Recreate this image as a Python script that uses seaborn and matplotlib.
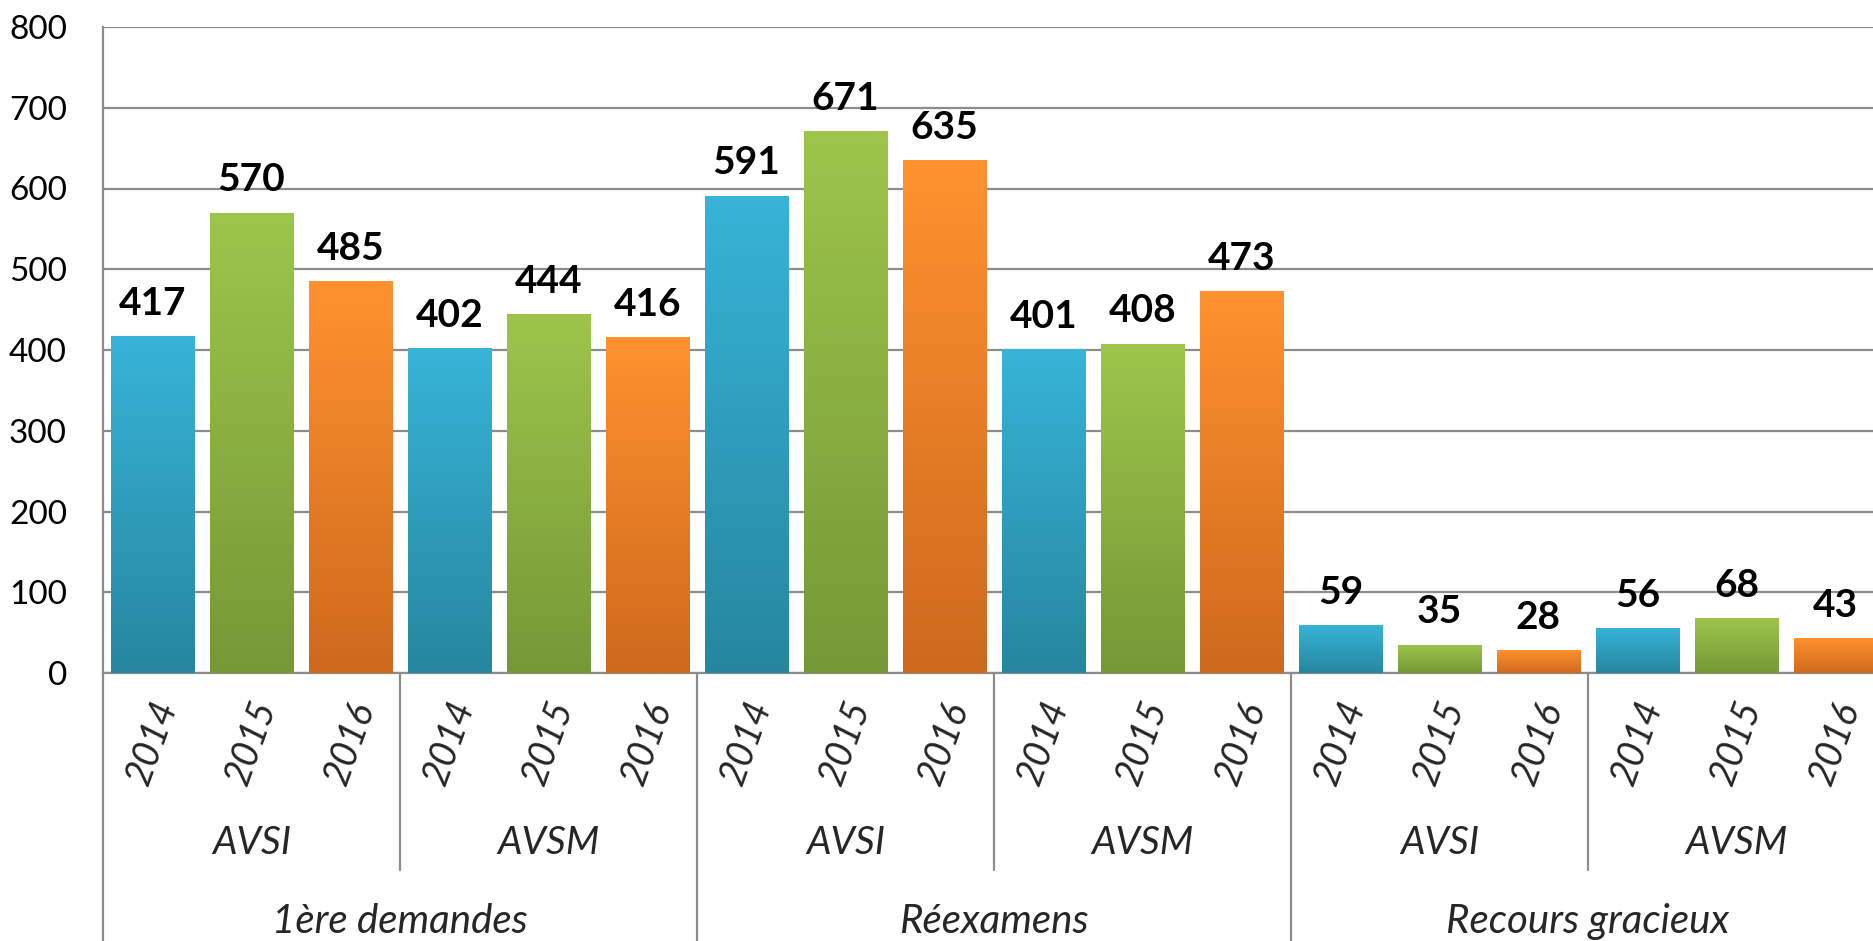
import numpy as np
import pandas as pd
import seaborn as sns
import matplotlib.pyplot as plt
from matplotlib.colors import LinearSegmentedColormap

# donnees
groupes = ["1ère demandes", "Réexamens", "Recours gracieux"]
types = ["AVSI", "AVSM"]
annees = ["2014", "2015", "2016"]
valeurs_1ere = [417, 570, 485, 402, 444, 416]
valeurs_reex = [591, 671, 635, 401, 408, 473]
valeurs_recours = [59, 35, 28, 56, 68, 43]

# couleurs (haut / bas du degrade)
haut = {"2014": "#37B4D8", "2015": "#9DC54B", "2016": "#FF922F"}
bas = {"2014": "#26869F", "2015": "#769836", "2016": "#CE691D"}

lignes = []
for g, vals in zip(groupes, [valeurs_1ere, valeurs_reex, valeurs_recours]):
    i = 0
    for t in types:
        for a in annees:
            lignes.append({"cle": g + "|" + t + "|" + a, "groupe": g, "type": t,
                           "annee": a, "valeur": vals[i]})
            i += 1
df = pd.DataFrame(lignes)
ordre = list(df.cle)

sns.set_style("white")
plt.rcParams['font.family'] = ['Lato', 'DejaVu Sans']

W, H = 1874, 941
fig = plt.figure(figsize=(W / 100, H / 100), dpi=100)
ax = fig.add_axes([103 / W, (H - 673) / H, 1782 / W, 646 / H])

sns.barplot(data=df, x="cle", y="valeur", hue="annee", order=ordre,
            palette=haut, dodge=False, width=0.84, legend=False, ax=ax,
            edgecolor="none", linewidth=0, zorder=3)

ax.set_xlim(-0.5, len(ordre) - 0.5)
ax.set_ylim(0, 800)
ax.set_yticks(range(0, 801, 100))
ax.yaxis.grid(True, color="#8C8C8C", linewidth=1.6, zorder=0)
ax.set_axisbelow(True)
ax.tick_params(axis="y", length=0, pad=26, labelsize=24, labelcolor="black")
ax.set_xticks([])
ax.set_xlabel("")
ax.set_ylabel("")
for s in ["top", "right"]:
    ax.spines[s].set_visible(False)
for s in ["left", "bottom"]:
    ax.spines[s].set_color("#8C8C8C")
    ax.spines[s].set_linewidth(1.6)

# degrade vertical dans chaque barre
grad = np.linspace(0, 1, 256).reshape(-1, 1)
for p in ax.patches:
    x0, w, h = p.get_x(), p.get_width(), p.get_height()
    a = annees[int(round(x0 + w / 2)) % 3]
    cmap = LinearSegmentedColormap.from_list(a, [bas[a], haut[a]])
    im = ax.imshow(grad, cmap=cmap, origin="lower", aspect="auto",
                   extent=[x0, x0 + w, 0, h], zorder=4)
    im.set_clip_path(p)
ax.set_xlim(-0.5, len(ordre) - 0.5)
ax.set_ylim(0, 800)

# etiquettes de valeurs
for c in ax.containers:
    ax.bar_label(c, padding=11, fontsize=28, fontweight="bold", color="black")

# axe des categories a plusieurs niveaux
tr = ax.get_xaxis_transform()
for i, a in enumerate(df.annee):
    ax.text(i, -0.108, a, transform=tr, rotation=70, ha="center", va="center",
            fontsize=27, style="italic", clip_on=False)
for k in range(len(groupes) * len(types)):
    ax.text(3 * k + 1, -0.263, types[k % 2], transform=tr, ha="center",
            va="center", fontsize=28, style="italic", clip_on=False)
    if k % 2 == 0:
        ax.plot([3 * k + 2.5] * 2, [0, -0.305], transform=tr, color="#8C8C8C",
                linewidth=1.6, clip_on=False)
for j, g in enumerate(groupes):
    ax.text(6 * j + 2.5, -0.385, g, transform=tr, ha="center", va="center",
            fontsize=29, style="italic", clip_on=False)
    ax.plot([6 * j - 0.5] * 2, [0, -0.45], transform=tr, color="#8C8C8C",
            linewidth=1.6, clip_on=False)

fig.savefig("out.png", dpi=100)
